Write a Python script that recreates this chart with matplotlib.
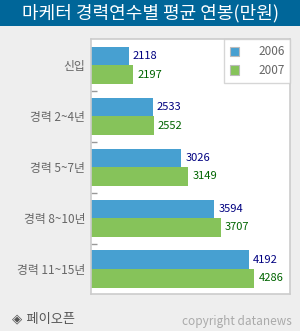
import matplotlib
matplotlib.use("Agg")
import matplotlib.pyplot as plt
from matplotlib.patches import Rectangle

plt.rcParams['font.family'] = ['Noto Sans CJK KR', 'DejaVu Sans']

categories = ["신입", "경력 2~4년", "경력 5~7년", "경력 8~10년", "경력 11~15년"]
salary_2006 = [2118, 2533, 3026, 3594, 4192]
salary_2007 = [2197, 2552, 3149, 3707, 4286]
series_names = ["2006", "2007"]

blue = "#47a0d1"
green = "#86c35a"

fig = plt.figure(figsize=(3.0, 3.31), dpi=100)
fig.patch.set_facecolor("#eeeeee")

# title bar
fig.patches.append(Rectangle((0, 1 - 25.5 / 331), 1, 25.5 / 331, transform=fig.transFigure,
                             facecolor="#006699", edgecolor="none", zorder=0))
fig.text(0.5, 1 - 13 / 331, "마케터 경력연수별 평균 연봉(만원)", color="white",
         fontsize=13, ha="center", va="center")

ax = fig.add_axes([90.7 / 300, 1 - 294 / 331, 199.6 / 300, 254.7 / 331])
ax.set_facecolor("white")

h = 0.365
y = list(range(len(categories)))
ax.barh([i - h / 2 for i in y], salary_2006, height=h, color=blue, label=series_names[0])
ax.barh([i + h / 2 for i in y], salary_2007, height=h, color=green, label=series_names[1])

for i in y:
    ax.annotate(str(salary_2006[i]), (salary_2006[i], i - h / 2), xytext=(3, 0),
                textcoords="offset points", va="center", ha="left",
                fontsize=8, color="#000080")
    ax.annotate(str(salary_2007[i]), (salary_2007[i], i + h / 2), xytext=(3, 0),
                textcoords="offset points", va="center", ha="left",
                fontsize=8, color="#006400")

ax.set_xlim(1460, 4910)
ax.set_ylim(4.49, -0.51)
ax.set_xticks([])
ax.set_yticks(y)
ax.set_yticklabels(categories, fontsize=8.5, color="#666666")
ax.tick_params(axis="y", which="major", length=0, pad=4)
ax.set_yticks([0.5, 1.5, 2.5, 3.5], minor=True)
ax.tick_params(axis="y", which="minor", direction="in", length=4, color="#999999", width=1)
for s in ax.spines.values():
    s.set_color("#cccccc")
    s.set_linewidth(1.2)

leg = ax.legend(loc="upper right", bbox_to_anchor=(1.0, 1.0), borderaxespad=0,
                fontsize=8.5, frameon=True, fancybox=False, handlelength=0.8,
                handleheight=0.8, handletextpad=1.6, borderpad=0.5, labelspacing=0.5,
                labelcolor="#666666")
leg.get_frame().set_edgecolor("#cccccc")
leg.get_frame().set_linewidth(1.0)
for p in leg.get_patches():
    p.set_edgecolor("#bbbbbb")
    p.set_linewidth(0.8)

fig.text(12 / 300, 1 - 319 / 331, "◈ 페이오픈", color="#555555", fontsize=9.5,
         ha="left", va="center", family=["DejaVu Sans", "Noto Sans CJK KR"])
fig.text(292 / 300, 1 - 322 / 331, "copyright datanews", color="#aaaaaa", fontsize=8.5,
         ha="right", va="center")

fig.savefig("out.png", dpi=100, facecolor=fig.get_facecolor())
